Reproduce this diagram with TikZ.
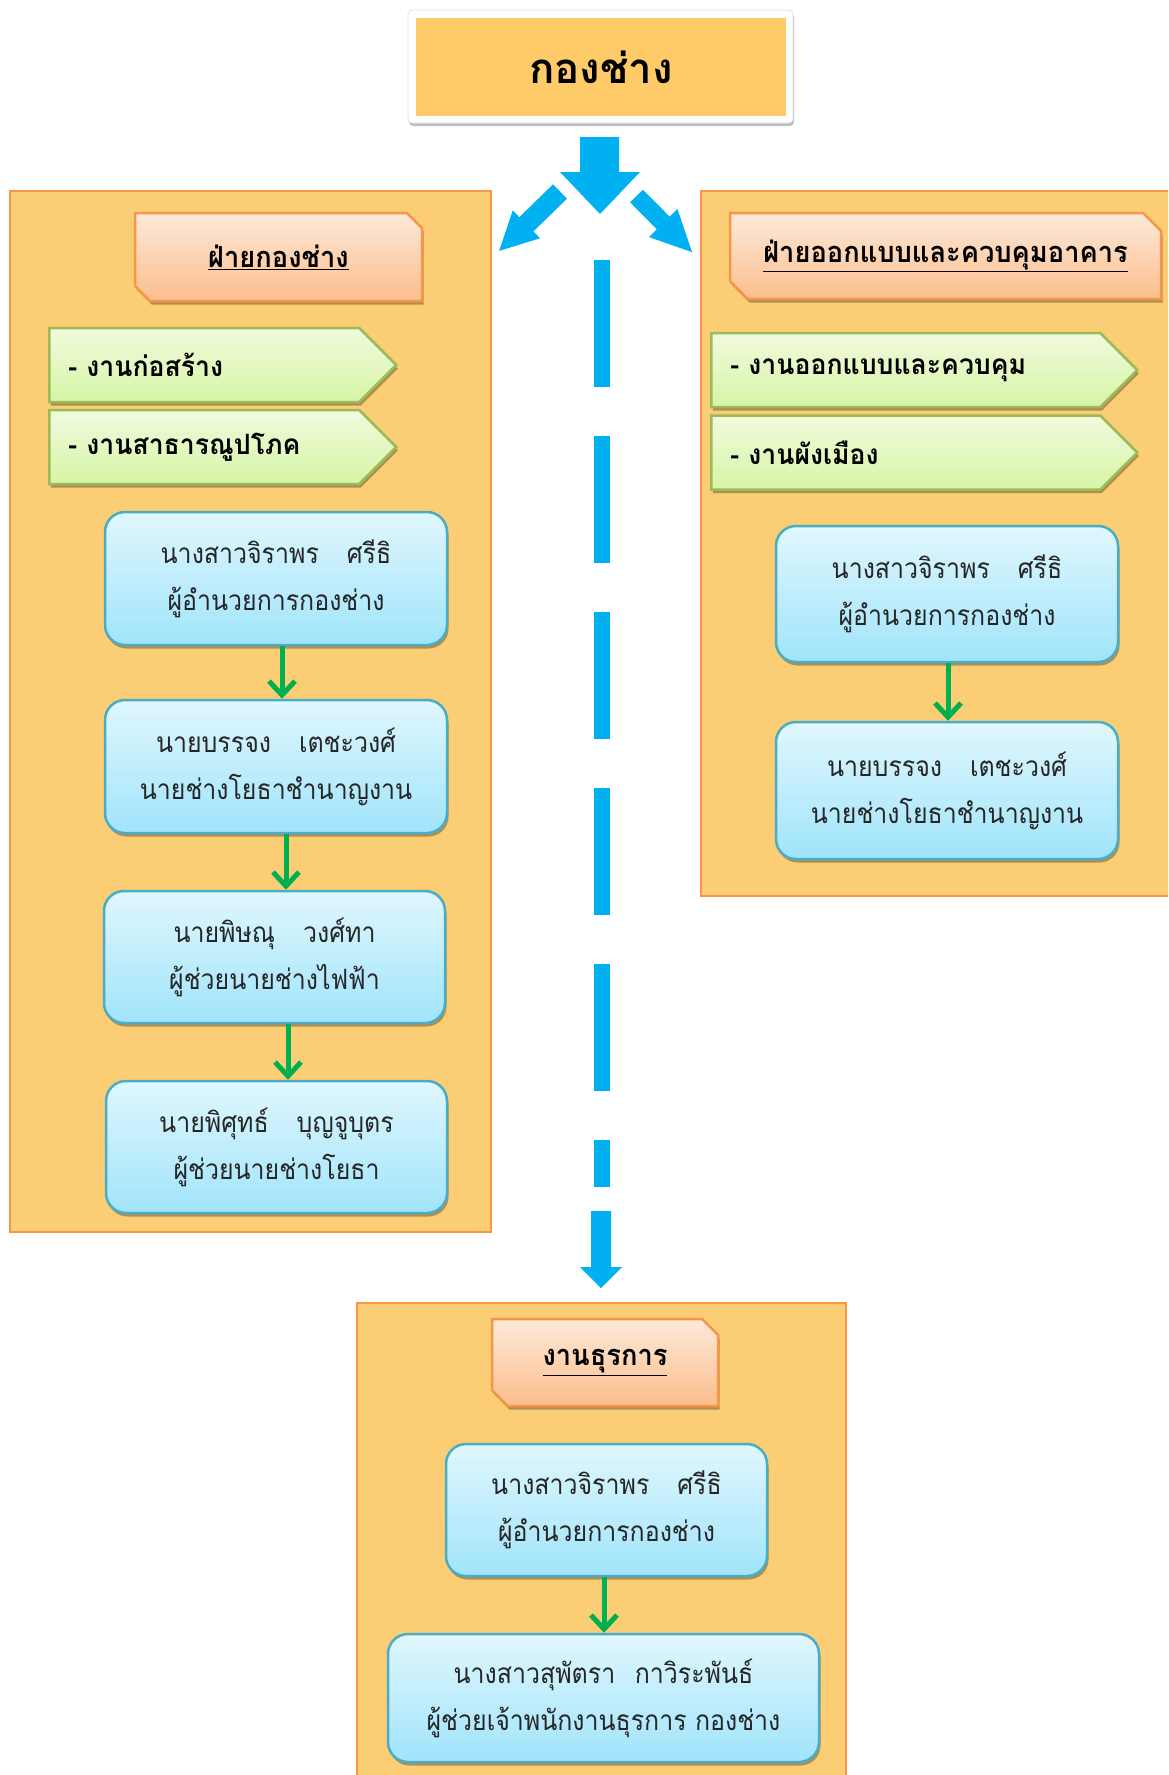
\documentclass[tikz,border=0pt]{standalone}
\usepackage{fontspec}
\newfontfamily\thai[Script=Thai]{Loma}
\newfontfamily\thaibody[Script=Thai,FakeStretch=0.89]{Loma}
\newfontfamily\thaitab[Script=Thai,FakeStretch=0.95]{Loma}
\newfontfamily\thaihdr[Script=Thai,FakeStretch=0.94]{Loma}
\usetikzlibrary{shapes.misc,shapes.symbols,shadows,arrows.meta,calc}
\definecolor{panelfill}{HTML}{FBCE75}
\definecolor{panelline}{HTML}{F79646}
\definecolor{topfill}{HTML}{FECB68}
\definecolor{hdrtop}{HTML}{FDE9D9}
\definecolor{hdrbot}{HTML}{FBBE8C}
\definecolor{tabtop}{HTML}{F1FADD}
\definecolor{tabbot}{HTML}{D6F5A6}
\definecolor{tabline}{HTML}{9BBB59}
\definecolor{boxtop}{HTML}{E0F7FD}
\definecolor{boxbot}{HTML}{A0E4FB}
\definecolor{boxline}{HTML}{4BACC6}
\definecolor{bluearr}{HTML}{00B0F0}
\definecolor{greenarr}{HTML}{00B050}
\begin{document}
\begin{tikzpicture}[x=1pt,y=1pt,
  softshadow/.style={drop shadow={shadow xshift=1.5pt,shadow yshift=-3.5pt,opacity=0.3,fill=black}},
  panelbox/.style={draw=panelline,fill=panelfill,line width=2pt,anchor=north west,inner sep=0pt},
  hdr/.style={chamfered rectangle,chamfered rectangle corners={north east,south west},
    chamfered rectangle xsep=15pt,draw=panelline,line width=2.5pt,top color=hdrtop,bottom color=hdrbot,
    softshadow,font=\thaihdr\bfseries\fontsize{29}{33}\selectfont,inner sep=0pt},
  tab/.style={signal,signal to=east,signal pointer angle=90,draw=tabline,line width=2.5pt,
    top color=tabtop,bottom color=tabbot,softshadow,align=left,inner xsep=19pt,inner ysep=0pt,
    minimum height=74pt,anchor=west,font=\thaitab\bfseries\fontsize{28}{32}\selectfont},
  person/.style={draw=boxline,line width=2.5pt,rounded corners=20pt,top color=boxtop,bottom color=boxbot,
    softshadow,align=center,inner sep=0pt,text=black!85,font=\thaibody\fontsize{28}{47}\selectfont},
  garrow/.style={draw=greenarr,line width=5pt,-{Straight Barb[length=14pt,width=26pt]}},
  barrow/.style={fill=bluearr}
]
\useasboundingbox (0,0) rectangle (1168,-1775);
\clip (0,0) rectangle (1168,-1775);
\fill[white] (0,0) rectangle (1168,-1775);

% panels
\node[panelbox,minimum width=481pt,minimum height=1041pt] (lpanel) at (9,-190) {};
\node[panelbox,minimum width=490pt,minimum height=705pt] (rpanel) at (700,-190) {};
\node[panelbox,minimum width=489pt,minimum height=520pt] (bpanel) at (356,-1302) {};

% top box
\node[fill=white,draw=black!12,line width=0.8pt,rounded corners=4pt,
  drop shadow={shadow xshift=1pt,shadow yshift=-3pt,opacity=0.25,fill=black},
  minimum width=385pt,minimum height=113pt,inner sep=0pt] (topframe) at (600.5,-66.5) {};
\node[fill=topfill,minimum width=370pt,minimum height=98pt,inner sep=0pt,
  font=\thai\bfseries\fontsize{42}{46}\selectfont] (top) at (601,-67) {กองช่าง};

% block arrows
\coordinate (split) at (600,-137);
\fill[barrow] (580,-137) -- (619,-137) -- (619,-172) -- (640,-172) -- (600,-214) -- (560,-172) -- (580,-172) -- cycle;
\begin{scope}[shift={(560,-191.5)},rotate=224.3]
  \fill[barrow] (0,10) -- (47,10) -- (47,19.5) -- (85,0) -- (47,-19.5) -- (47,-10) -- (0,-10) -- cycle;
\end{scope}
\begin{scope}[shift={(636.5,-196)},rotate=-45.3]
  \fill[barrow] (0,9) -- (38,9) -- (38,20) -- (79,0) -- (38,-20) -- (38,-9) -- (0,-9) -- cycle;
\end{scope}

% dashed connector to bottom panel
\coordinate (dashtop) at (602,-260);
\coordinate (dashend) at (602,-1187);
\draw[bluearr,line width=16pt,dash pattern=on 127pt off 49pt] (dashtop) -- (dashend);
\fill[barrow] (591,-1211) -- (611,-1211) -- (611,-1267) -- (622,-1267) -- (601,-1288) -- (580,-1267) -- (591,-1267) -- cycle;

% headers
\node[hdr,minimum width=287pt,minimum height=88pt] (lh) at (278.5,-257) {\underline{ฝ่ายกองช่าง}};
\node[hdr,minimum width=431pt,minimum height=86pt] (rh) at (945.5,-256) {\underline{ฝ่ายออกแบบและควบคุมอาคาร}};
\node[hdr,minimum width=226pt,minimum height=87pt] (bh) at (605,-1362.5) {\underline{งานธุรการ}};

% tabs
\node[tab,text width=272pt] (lt1) at (48,-365) {- งานก่อสร้าง};
\node[tab,text width=272pt] (lt2) at (48,-447) {- งานสาธารณูปโภค};
\node[tab,text width=351pt] (rt1) at (710,-370) {- งานออกแบบและควบคุม};
\node[tab,text width=351pt] (rt2) at (710,-452.5) {- งานผังเมือง};

% left people
\node[person,minimum width=342pt,minimum height=133pt] (l1) at (276,-578.5) {นางสาวจิราพร\hspace{1em}ศรีธิ\\ผู้อำนวยการกองช่าง};
\node[person,minimum width=342pt,minimum height=133pt] (l2) at (276,-766.5) {นายบรรจง\hspace{1em}เตชะวงศ์\\นายช่างโยธาชำนาญงาน};
\node[person,minimum width=341pt,minimum height=132pt] (l3) at (274.5,-957) {นายพิษณุ\hspace{1em}วงศ์ทา\\ผู้ช่วยนายช่างไฟฟ้า};
\node[person,minimum width=341pt,minimum height=132pt] (l4) at (276.5,-1147) {นายพิศุทธ์\hspace{1em}บุญจูบุตร\\ผู้ช่วยนายช่างโยธา};
\draw[garrow] ([xshift=6pt]l1.south) -- ([xshift=6pt]l2.north);
\draw[garrow] ([xshift=10pt]l2.south) -- ([xshift=11.5pt]l3.north);
\draw[garrow] ([xshift=13.5pt]l3.south) -- ([xshift=11.5pt]l4.north);

% right people
\node[person,minimum width=342pt,minimum height=136pt] (r1) at (947,-594) {นางสาวจิราพร\hspace{1em}ศรีธิ\\ผู้อำนวยการกองช่าง};
\node[person,minimum width=342pt,minimum height=137pt] (r2) at (947,-790.5) {นายบรรจง\hspace{1em}เตชะวงศ์\\นายช่างโยธาชำนาญงาน};
\draw[garrow] ([xshift=1pt]r1.south) -- ([xshift=1pt]r2.north);

% bottom people
\node[person,minimum width=321pt,minimum height=132pt] (b1) at (606.5,-1510) {นางสาวจิราพร\hspace{1em}ศรีธิ\\ผู้อำนวยการกองช่าง};
\node[person,minimum width=431pt,minimum height=128pt] (b2) at (603.5,-1698) {นางสาวสุพัตรา\hspace{0.7em}กาวิระพันธ์\\ผู้ช่วยเจ้าพนักงานธุรการ กองช่าง};
\draw[garrow] ([xshift=-2.5pt]b1.south) -- ([xshift=0.5pt]b2.north);
\end{tikzpicture}
\end{document}
